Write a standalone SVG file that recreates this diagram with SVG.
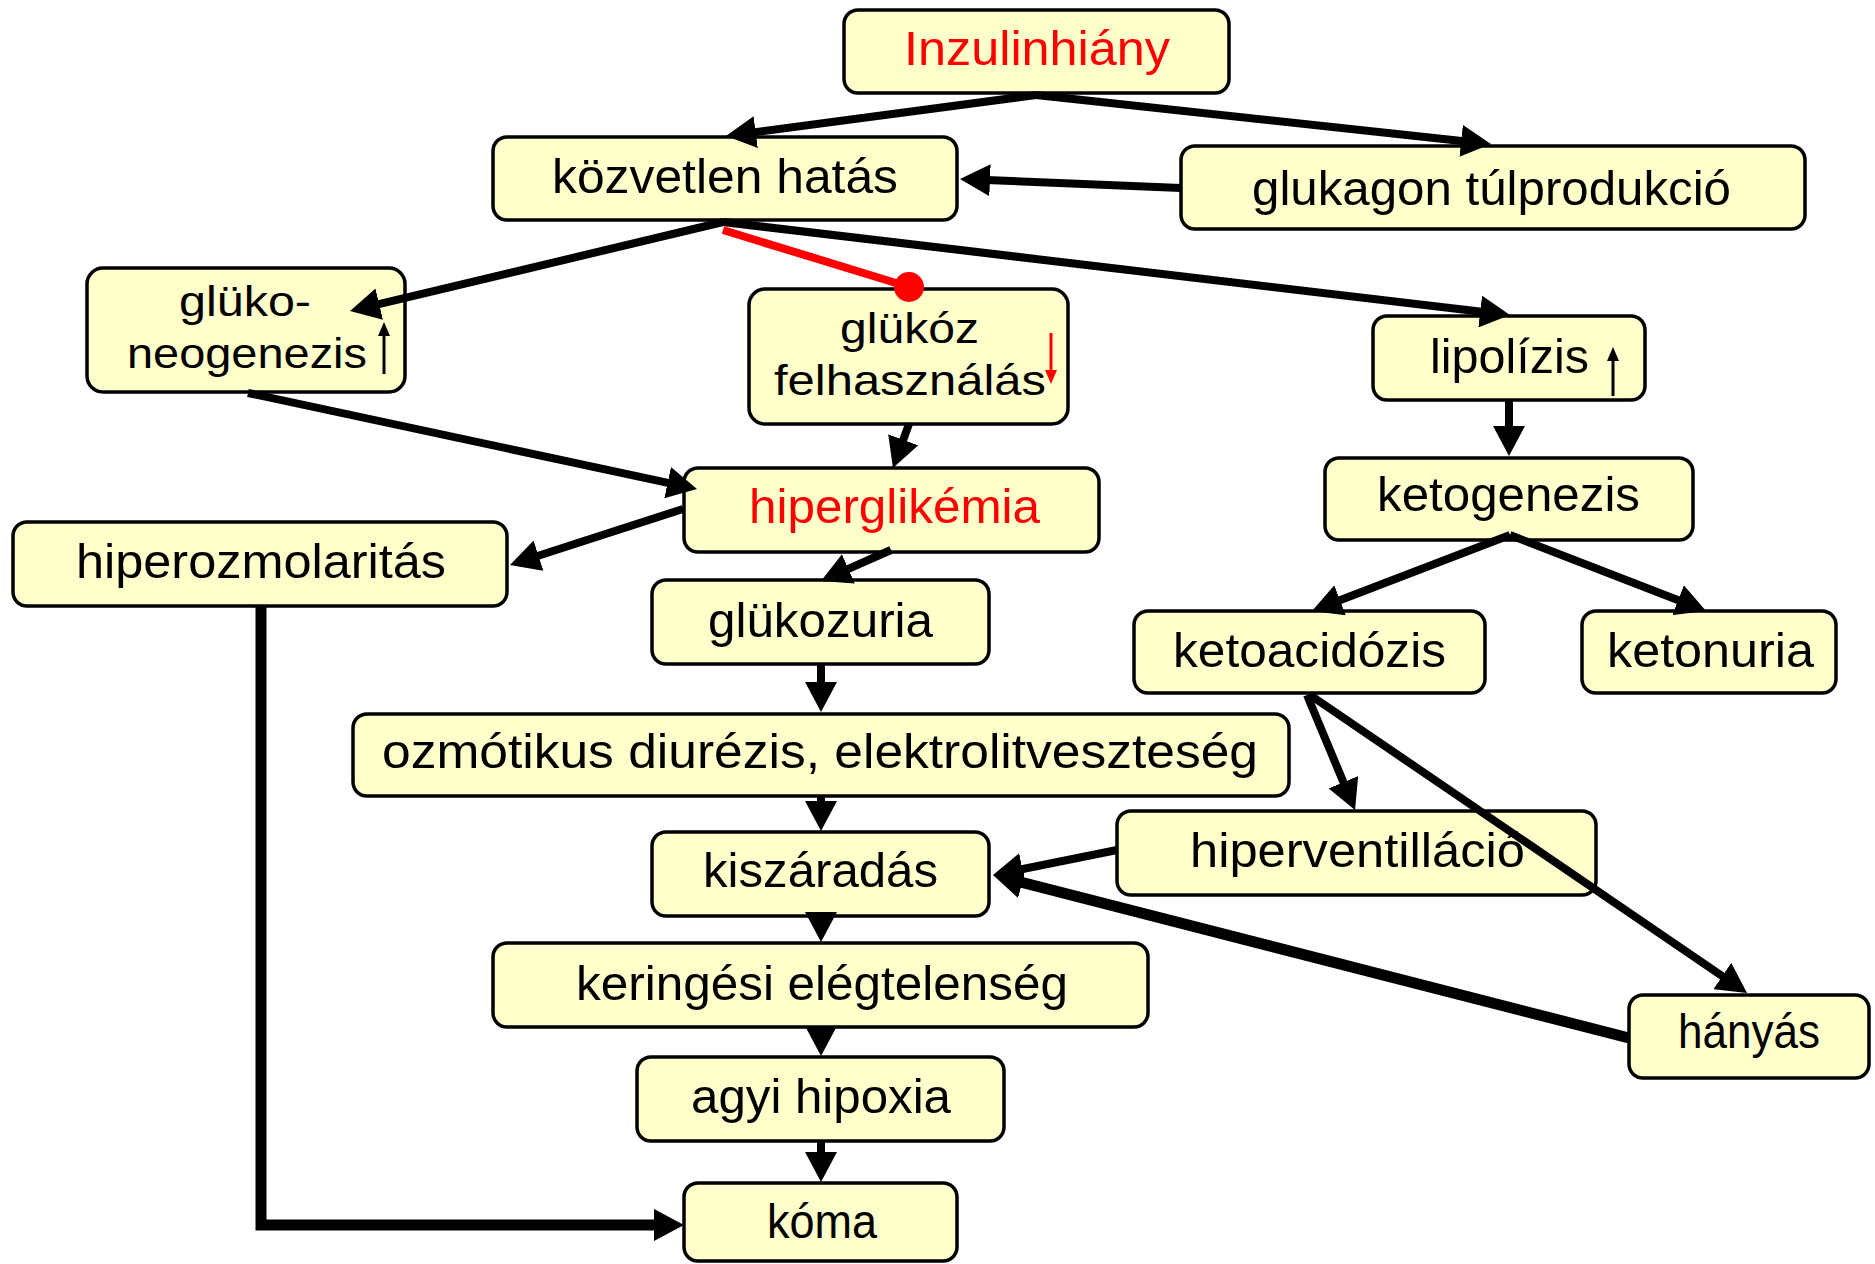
<svg xmlns="http://www.w3.org/2000/svg" width="1875" height="1264" viewBox="0 0 1875 1264">
<style>
.box{fill:#FFFFCC;stroke:#000;stroke-width:3.5}
.t{font-family:"Liberation Sans",Arial,sans-serif;font-size:48px;fill:#000}
.t2{font-size:43px}
.r{fill:#FF0000}
.c{fill:none;stroke:#000;stroke-width:8;marker-end:url(#ah)}
.cw{stroke-width:11}
.sm{fill:none;stroke:#000;stroke-width:3;marker-end:url(#sa)}
.smr{fill:none;stroke:#FF0000;stroke-width:3;marker-end:url(#sar)}
</style>
<defs>
<marker id="ah" markerUnits="userSpaceOnUse" viewBox="0 0 30 32" markerWidth="30" markerHeight="32" refX="10" refY="16" orient="auto"><path d="M0,0 L30,16 L0,32 z" fill="#000"/></marker>
<marker id="sa" markerUnits="userSpaceOnUse" viewBox="0 0 14 12" markerWidth="14" markerHeight="12" refX="4" refY="6" orient="auto"><path d="M0,0 L14,6 L0,12 z" fill="#000"/></marker>
<marker id="sar" markerUnits="userSpaceOnUse" viewBox="0 0 14 12" markerWidth="14" markerHeight="12" refX="4" refY="6" orient="auto"><path d="M0,0 L14,6 L0,12 z" fill="#FF0000"/></marker>
</defs>
<rect width="1875" height="1264" fill="#fff"/>
<g id="n-inzulinhiany"><rect class="box" x="844" y="10" width="385" height="83" rx="14"/><text class="t r" x="904" y="65" textLength="266" lengthAdjust="spacingAndGlyphs">Inzulinhiány</text></g>
<g id="n-kozvetlen"><rect class="box" x="493" y="137" width="464" height="83" rx="14"/><text class="t" x="552" y="193" textLength="346" lengthAdjust="spacingAndGlyphs">közvetlen hatás</text></g>
<g id="n-glukagon"><rect class="box" x="1181" y="146" width="624" height="83" rx="14"/><text class="t" x="1252" y="205" textLength="479" lengthAdjust="spacingAndGlyphs">glukagon túlprodukció</text></g>
<g id="n-glukoneogenezis"><rect class="box" x="87" y="268" width="318" height="124" rx="16"/><text class="t t2" x="179" y="316" textLength="132" lengthAdjust="spacingAndGlyphs">glüko-</text><text class="t t2" x="127" y="368" textLength="240" lengthAdjust="spacingAndGlyphs">neogenezis</text><path class="sm" d="M384,374 L384,332"/></g>
<g id="n-glukozfelhasznalas"><rect class="box" x="749" y="289" width="319" height="135" rx="16"/><text class="t t2" x="840" y="343" textLength="139" lengthAdjust="spacingAndGlyphs">glükóz</text><text class="t t2" x="774" y="395" textLength="272" lengthAdjust="spacingAndGlyphs">felhasználás</text><path class="smr" d="M1051,333 L1051,374"/></g>
<g id="n-lipolizis"><rect class="box" x="1373" y="316" width="272" height="84" rx="14"/><text class="t" x="1430" y="373" textLength="159" lengthAdjust="spacingAndGlyphs">lipolízis</text><path class="sm" d="M1613,396 L1613,357"/></g>
<g id="n-hiperglikemia"><rect class="box" x="684" y="468" width="415" height="84" rx="14"/><text class="t r" x="749" y="523" textLength="291" lengthAdjust="spacingAndGlyphs">hiperglikémia</text></g>
<g id="n-hiperozmolaritas"><rect class="box" x="13" y="522" width="494" height="84" rx="14"/><text class="t" x="76" y="578" textLength="370" lengthAdjust="spacingAndGlyphs">hiperozmolaritás</text></g>
<g id="n-ketogenezis"><rect class="box" x="1325" y="458" width="368" height="82" rx="14"/><text class="t" x="1377" y="511" textLength="263" lengthAdjust="spacingAndGlyphs">ketogenezis</text></g>
<g id="n-glukozuria"><rect class="box" x="652" y="580" width="337" height="84" rx="14"/><text class="t" x="708" y="637" textLength="225" lengthAdjust="spacingAndGlyphs">glükozuria</text></g>
<g id="n-ketoacidozis"><rect class="box" x="1134" y="611" width="351" height="82" rx="14"/><text class="t" x="1173" y="667" textLength="273" lengthAdjust="spacingAndGlyphs">ketoacidózis</text></g>
<g id="n-ketonuria"><rect class="box" x="1582" y="611" width="254" height="82" rx="14"/><text class="t" x="1607" y="667" textLength="207" lengthAdjust="spacingAndGlyphs">ketonuria</text></g>
<g id="n-ozmotikus"><rect class="box" x="353" y="714" width="936" height="82" rx="14"/><text class="t" x="382" y="768" textLength="876" lengthAdjust="spacingAndGlyphs">ozmótikus diurézis, elektrolitveszteség</text></g>
<g id="n-hiperventillacio"><rect class="box" x="1117" y="811" width="479" height="84" rx="14"/><text class="t" x="1190" y="867" textLength="335" lengthAdjust="spacingAndGlyphs">hiperventilláció</text></g>
<g id="n-kiszaradas"><rect class="box" x="652" y="832" width="337" height="84" rx="14"/><text class="t" x="703" y="887" textLength="235" lengthAdjust="spacingAndGlyphs">kiszáradás</text></g>
<g id="n-keringesi"><rect class="box" x="493" y="943" width="655" height="84" rx="14"/><text class="t" x="576" y="1000" textLength="492" lengthAdjust="spacingAndGlyphs">keringési elégtelenség</text></g>
<g id="n-hanyas"><rect class="box" x="1629" y="995" width="240" height="83" rx="14"/><text class="t" x="1678" y="1048" textLength="142" lengthAdjust="spacingAndGlyphs">hányás</text></g>
<g id="n-agyihipoxia"><rect class="box" x="637" y="1057" width="367" height="84" rx="14"/><text class="t" x="691" y="1113" textLength="260" lengthAdjust="spacingAndGlyphs">agyi hipoxia</text></g>
<g id="n-koma"><rect class="box" x="684" y="1183" width="273" height="78" rx="14"/><text class="t" x="767" y="1238" textLength="110" lengthAdjust="spacingAndGlyphs">kóma</text></g>
<g id="connectors">
<path class="c" d="M1036,95 L745.8,133.4"/>
<path class="c" d="M1036,95 L1471.1,141.9"/>
<path class="c" d="M1181,188 L980,179.8"/>
<path class="c" d="M723,222 L369.5,306.4"/>
<path class="c" d="M723,222 L1490.1,312.7"/>
<path d="M723,230 L909,287" fill="none" stroke="#FF0000" stroke-width="8"/>
<circle cx="909" cy="287" r="15" fill="#FF0000"/>
<path class="c" d="M248,393 L677.4,484.8"/>
<path class="c" d="M909,424 L899.8,449.2"/>
<path class="c" d="M683,509 L529,558.8"/>
<path class="c" d="M891,550 L839.3,572.9"/>
<path class="c cw" d="M261,606 L261,1225 L664,1225"/>
<path class="c" d="M1509,401 L1509,436"/>
<path class="c" d="M1510,535 L1330.7,603.8"/>
<path class="c" d="M1510,535 L1687.4,603.8"/>
<path class="c" d="M821,665 L821,692"/>
<path class="c" d="M821,797 L821,811"/>
<path class="c" d="M1307,695 L1347.3,791.5"/>
<path class="c" d="M1310,695 L1730.5,981.7"/>
<path class="c" d="M1117,850 L1012.6,871"/>
<path class="c cw" d="M1629,1038 L1012.4,880"/>
<path class="c" d="M821,915 L821,922"/>
<path class="c" d="M821,1027 L821,1036"/>
<path class="c" d="M821,1141 L821,1162"/>
</g>
</svg>
